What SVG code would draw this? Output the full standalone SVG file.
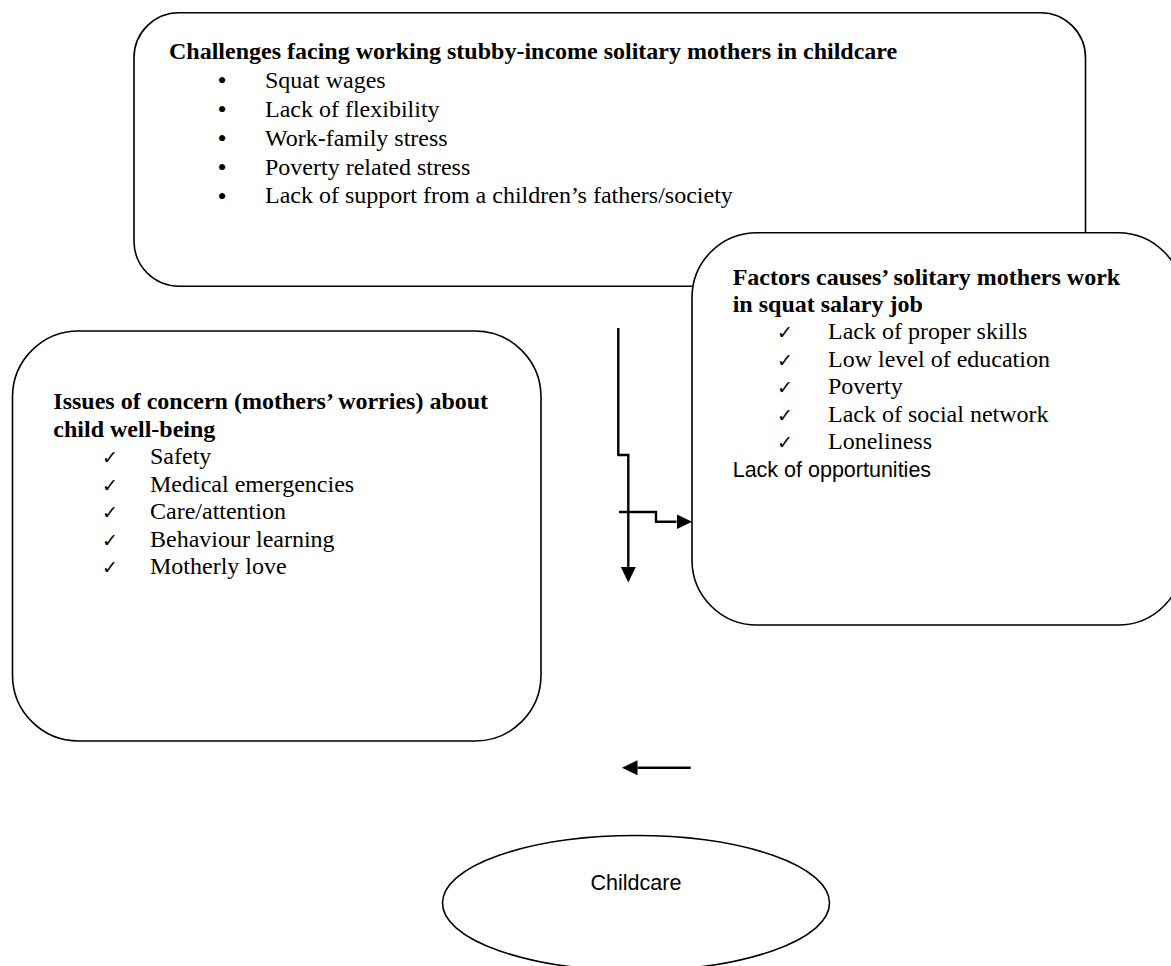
<svg xmlns="http://www.w3.org/2000/svg" width="1171" height="966" viewBox="0 0 1171 966">
<style>
.box{fill:#fff;stroke:#000;stroke-width:1.6}
.t{font-family:"Liberation Serif","Times New Roman",serif;font-size:24px;fill:#000}
.b{font-weight:bold}
.s{font-family:"Liberation Sans",Arial,sans-serif;font-size:21.5px;fill:#000}
.ck{font-family:"DejaVu Sans",sans-serif;font-size:19px;fill:#000}
.bul{font-family:"Liberation Serif",serif;font-size:26px;fill:#000;text-anchor:middle}
.con{fill:none;stroke:#000;stroke-width:2.4}
</style>
<defs>
<marker id="ah" markerUnits="userSpaceOnUse" markerWidth="16" markerHeight="16" refX="0" refY="7.5" orient="auto" viewBox="0 0 16 15">
<path d="M0,0 L15.5,7.5 L0,15 z" fill="#000"/>
</marker>
</defs>
<rect width="1171" height="966" fill="#fff"/>
<g id="challenges">
<rect class="box" x="134" y="12.7" width="951.5" height="273.5" rx="45" ry="45"/>
<text class="t b" x="169" y="59.3">Challenges facing working stubby-income solitary mothers in childcare</text>
<text class="bul" x="222" y="89">•</text><text class="t" x="265" y="87.5">Squat wages</text>
<text class="bul" x="222" y="118">•</text><text class="t" x="265" y="116.5">Lack of flexibility</text>
<text class="bul" x="222" y="147">•</text><text class="t" x="265" y="145.5">Work-family stress</text>
<text class="bul" x="222" y="176">•</text><text class="t" x="265" y="174.5">Poverty related stress</text>
<text class="bul" x="222" y="204.8">•</text><text class="t" x="265" y="203.3">Lack of support from a children’s fathers/society</text>
</g>
<g id="factors">
<rect class="box" x="692" y="232.7" width="491" height="392.3" rx="65" ry="65"/>
<text class="t b" x="732.7" y="285">Factors causes’ solitary mothers work</text>
<text class="t b" x="732.7" y="312">in squat salary job</text>
<text class="ck" x="777" y="339.3">✓</text><text class="t" x="828" y="339.3">Lack of proper skills</text>
<text class="ck" x="777" y="366.8">✓</text><text class="t" x="828" y="366.8">Low level of education</text>
<text class="ck" x="777" y="394.3">✓</text><text class="t" x="828" y="394.3">Poverty</text>
<text class="ck" x="777" y="421.8">✓</text><text class="t" x="828" y="421.8">Lack of social network</text>
<text class="ck" x="777" y="449.3">✓</text><text class="t" x="828" y="449.3">Loneliness</text>
<text class="s" x="732.7" y="476.8">Lack of opportunities</text>
</g>
<g id="issues">
<rect class="box" x="12.5" y="331" width="528.5" height="410" rx="66" ry="66"/>
<text class="t b" x="53.3" y="409.3">Issues of concern (mothers’ worries) about</text>
<text class="t b" x="53.3" y="436.8">child well-being</text>
<text class="ck" x="102" y="464.3">✓</text><text class="t" x="150" y="464.3">Safety</text>
<text class="ck" x="102" y="491.8">✓</text><text class="t" x="150" y="491.8">Medical emergencies</text>
<text class="ck" x="102" y="519.3">✓</text><text class="t" x="150" y="519.3">Care/attention</text>
<text class="ck" x="102" y="546.8">✓</text><text class="t" x="150" y="546.8">Behaviour learning</text>
<text class="ck" x="102" y="574.3">✓</text><text class="t" x="150" y="574.3">Motherly love</text>
</g>
<g id="childcare">
<ellipse class="box" cx="636" cy="903" rx="193.5" ry="67.5"/>
<text class="s" x="636" y="890" text-anchor="middle">Childcare</text>
</g>
<g id="connectors">
<path class="con" d="M618.3,328 V455 H628.3 V567" marker-end="url(#ah)"/>
<path class="con" d="M619,512 H656 V521.7 H676.5" marker-end="url(#ah)"/>
<path class="con" d="M690.7,767.7 H637.5" marker-end="url(#ah)"/>
</g>
</svg>
